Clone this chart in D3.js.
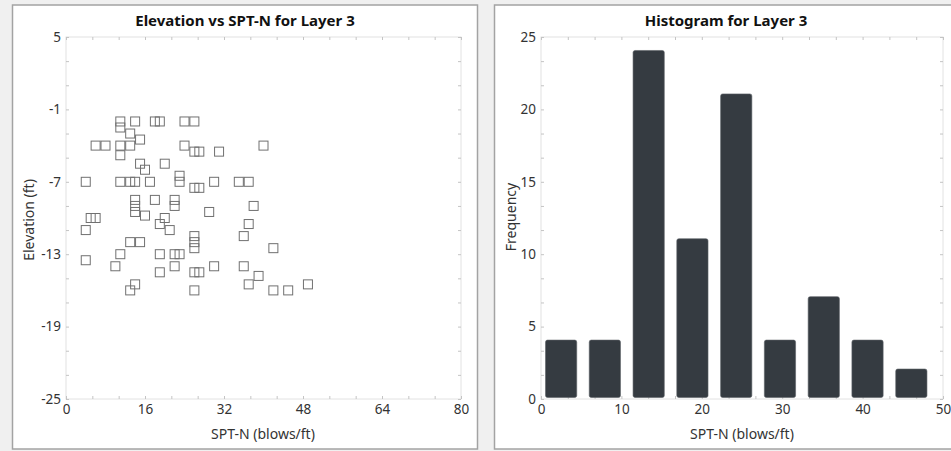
<!DOCTYPE html>
<html>
<head>
<meta charset="utf-8">
<script src="https://cdn.jsdelivr.net/npm/d3@7"></script>
<style>
  html, body { margin: 0; padding: 0; background: #f0f0f0; }
  svg { display: block; }
  text { font-family: "Segoe UI", "Noto Sans", "Open Sans", sans-serif; fill: #333; }
  .title { font-weight: bold; font-size: 15px; fill: #111; }
  .axis-title { font-size: 14px; }
</style>
</head>
<body>
<svg id="chart" width="951" height="451"></svg>
<script>
// Layer 3 SPT-N samples: blow count and elevation (ft)
const sptN = [
  11, 11, 14, 18, 19, 24, 26, 13, 15, 6, 8, 11, 13, 11, 24, 26, 27, 31, 40,
  15, 16, 20, 4, 11, 13, 14, 17, 23, 23, 26, 27, 30, 35, 37,
  14, 18, 22, 14, 22, 14, 29, 38, 5, 6, 16, 20, 19, 21, 4, 37,
  26, 26, 26, 36, 13, 15, 42, 11, 19, 22, 23, 4, 10, 22, 30, 36,
  19, 26, 27, 39, 14, 37, 49, 13, 26, 42, 45
];
const elevation = [
  -2, -2.5, -2, -2, -2, -2, -2, -3, -3.5, -4, -4, -4, -4, -4.8, -4, -4.5, -4.5, -4.5, -4,
  -5.5, -6, -5.5, -7, -7, -7, -7, -7, -6.5, -7, -7.5, -7.5, -7, -7, -7,
  -8.5, -8.5, -8.5, -9, -9, -9.5, -9.5, -9, -10, -10, -9.8, -10, -10.5, -11, -11, -10.5,
  -11.5, -12, -12.5, -11.5, -12, -12, -12.5, -13, -13, -13, -13, -13.5, -14, -14, -14, -14,
  -14.5, -14.5, -14.5, -14.8, -15.5, -15.5, -15.5, -16, -16, -16, -16
];

// Histogram of SPT-N: bin lower edges and counts
const binLow = [0, 5.44, 10.89, 16.33, 21.78, 27.22, 32.67, 38.11, 43.56];
const binWidth = 5.44;
const frequency = [4, 4, 24, 11, 21, 4, 7, 4, 2];

// Axis tick labels
const scatterXTicks = [0, 16, 32, 48, 64, 80];
const scatterYTicks = [5, -1, -7, -13, -19, -25];
const histXTicks = [0, 10, 20, 30, 40, 50];
const histYTicks = [0, 5, 10, 15, 20, 25];

const svg = d3.select("#chart");
const fmt = v => String(v);   // plain hyphen for negatives

// Panel frames
function panel(x, y, w, h) {
  svg.append("rect").attr("x", x).attr("y", y).attr("width", w).attr("height", h)
    .attr("fill", "#fff").attr("stroke", "#a3a3a3").attr("stroke-width", 1.5);
}
panel(12.5, 5, 465, 444);
panel(494.5, 5, 470, 444);

// Draws the plot frame with inward ticks on all four sides
function frame(g, x, y, xMajor, xMinorStep, yMajor, yMinorStep) {
  const [x0, x1] = x.range();
  const [y0, y1] = y.range();
  g.append("rect").attr("x", x0).attr("y", y1).attr("width", x1 - x0).attr("height", y0 - y1)
    .attr("fill", "none").attr("stroke", "#e2e2e2").attr("stroke-width", 1);

  const xd = x.domain(), yd = y.domain();
  const xMinor = d3.range(Math.round((xd[1] - xd[0]) / xMinorStep) + 1).map(i => xd[0] + i * xMinorStep);
  const yMinor = d3.range(Math.round((yd[1] - yd[0]) / yMinorStep) + 1).map(i => yd[0] + i * yMinorStep);

  const tickStyle = sel => {
    sel.select(".domain").remove();
    sel.selectAll(".tick line").attr("stroke", "#c4c4c4");
    sel.selectAll(".tick text").remove();
  };
  g.append("g").attr("transform", `translate(0,${y0})`)
    .call(d3.axisBottom(x).tickValues(xMinor).tickSize(-3)).call(tickStyle);
  g.append("g").attr("transform", `translate(0,${y1})`)
    .call(d3.axisTop(x).tickValues(xMinor).tickSize(-3)).call(tickStyle);
  g.append("g").attr("transform", `translate(${x0},0)`)
    .call(d3.axisLeft(y).tickValues(yMinor).tickSize(-3)).call(tickStyle);
  g.append("g").attr("transform", `translate(${x1},0)`)
    .call(d3.axisRight(y).tickValues(yMinor).tickSize(-3)).call(tickStyle);

  // Major tick labels
  const labelStyle = sel => {
    sel.attr("font-family", null).attr("font-size", 13.5);
    sel.select(".domain").remove();
    sel.selectAll(".tick line").remove();
    sel.selectAll(".tick text").attr("fill", "#333");
  };
  g.append("g").attr("transform", `translate(0,${y0 + 2})`)
    .call(d3.axisBottom(x).tickValues(xMajor).tickFormat(fmt).tickSize(0).tickPadding(3)).call(labelStyle);
  g.append("g").attr("transform", `translate(${x0 - 3},0)`)
    .call(d3.axisLeft(y).tickValues(yMajor).tickFormat(fmt).tickSize(0).tickPadding(2)).call(labelStyle);
}

// ---------- Scatter: Elevation vs SPT-N ----------
{
  const x = d3.scaleLinear().domain([0, 80]).range([66, 461]);
  const y = d3.scaleLinear().domain([-25, 5]).range([399, 37]);
  const g = svg.append("g");
  frame(g, x, y, scatterXTicks, 16 / 3, scatterYTicks, 2);

  const s = 9;
  g.append("g").selectAll("rect").data(sptN.map((v, i) => [v, elevation[i]]))
    .join("rect")
    .attr("x", d => x(d[0]) - s / 2)
    .attr("y", d => y(d[1]) - s / 2)
    .attr("width", s).attr("height", s)
    .attr("fill", "none").attr("stroke", "#707070").attr("stroke-width", 1);

  g.append("text").attr("class", "title").attr("x", 245).attr("y", 26)
    .attr("text-anchor", "middle").text("Elevation vs SPT-N for Layer 3");
  g.append("text").attr("class", "axis-title").attr("x", 263).attr("y", 439)
    .attr("text-anchor", "middle").text("SPT-N (blows/ft)");
  g.append("text").attr("class", "axis-title")
    .attr("transform", "translate(34,220) rotate(-90)")
    .attr("text-anchor", "middle").text("Elevation (ft)");
}

// ---------- Histogram of SPT-N ----------
{
  const x = d3.scaleLinear().domain([0, 50]).range([541, 943]);
  const y = d3.scaleLinear().domain([0, 25]).range([399, 37]);
  const g = svg.append("g");
  frame(g, x, y, histXTicks, 10 / 3, histYTicks, 5 / 3);

  g.append("g").selectAll("rect").data(binLow.map((b, i) => [b, frequency[i]]))
    .join("rect")
    .attr("x", d => x(d[0]) + 4.5)
    .attr("y", d => y(d[1]) - 1)
    .attr("width", d => x(d[0] + binWidth) - x(d[0]) - 12.5)
    .attr("height", d => y(0) - y(d[1]) - 0.5)
    .attr("rx", 2)
    .attr("fill", "#353b41").attr("stroke", "#5c6166").attr("stroke-width", 0.6);

  g.append("text").attr("class", "title").attr("x", 726).attr("y", 26)
    .attr("text-anchor", "middle").text("Histogram for Layer 3");
  g.append("text").attr("class", "axis-title").attr("x", 742).attr("y", 439)
    .attr("text-anchor", "middle").text("SPT-N (blows/ft)");
  g.append("text").attr("class", "axis-title")
    .attr("transform", "translate(516,217) rotate(-90)")
    .attr("text-anchor", "middle").text("Frequency");
}
</script>
</body>
</html>
